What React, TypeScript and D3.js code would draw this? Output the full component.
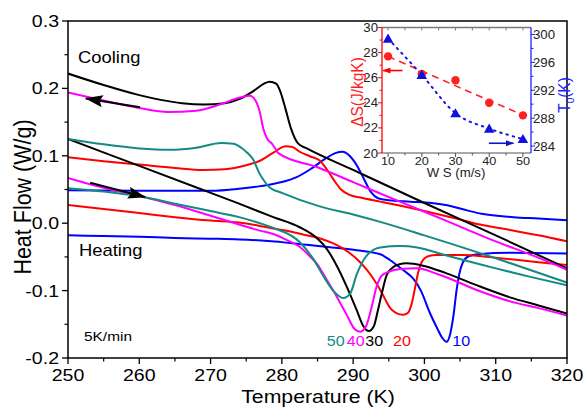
import React from 'react';
import * as d3 from 'd3';

type Pt = [number, number];

// DSC heat flow curves, [T (K), heat flow (W/g)]
const cool10: Pt[] = [[250, 0.049], [260, 0.048], [270, 0.048], [274, 0.051], [277, 0.055], [280, 0.061], [282, 0.068], [284, 0.08], [286, 0.095], [287.5, 0.104], [288.5, 0.106], [289.5, 0.1], [290.5, 0.086], [291.5, 0.066], [292.5, 0.046], [293.5, 0.037], [295, 0.034], [298, 0.032], [301, 0.03], [303, 0.027], [306, 0.019], [308, 0.014], [312.5, 0.009], [316, 0.007], [320, 0.0045]];
const heat10: Pt[] = [[250, -0.018], [255, -0.019], [260, -0.02], [265, -0.022], [270, -0.023], [274, -0.024], [279, -0.027], [283.5, -0.032], [287, -0.036], [290.5, -0.04], [293.8, -0.046], [295.2, -0.055], [296.1, -0.062], [297.2, -0.071], [298.4, -0.082], [299.5, -0.1], [300.8, -0.134], [301.7, -0.154], [302.5, -0.17], [303.1, -0.176], [303.6, -0.165], [304.1, -0.135], [304.5, -0.1], [304.9, -0.075], [305.4, -0.058], [306.2, -0.049], [307.5, -0.046], [312, -0.044], [320, -0.045]];
const cool20: Pt[] = [[250, 0.098], [255, 0.092], [260, 0.087], [265, 0.082], [269, 0.079], [272, 0.08], [275, 0.086], [277, 0.093], [279, 0.106], [280.5, 0.114], [281.5, 0.113], [282.5, 0.106], [284, 0.099], [285.3, 0.093], [286.3, 0.08], [287.3, 0.064], [288.3, 0.05], [289.5, 0.042], [291, 0.038], [293.8, 0.032], [297, 0.025], [300, 0.018], [304, 0.008], [307.8, -0.002], [312, -0.01], [316, -0.018], [320, -0.027]];
const heat20: Pt[] = [[250, 0.027], [255, 0.021], [260, 0.015], [265, 0.009], [270, 0.004], [274, 0.001], [276.9, -0.004], [278.8, -0.008], [281, -0.012], [283.5, -0.018], [285.5, -0.023], [287.2, -0.03], [288.5, -0.037], [289.6, -0.045], [290.8, -0.056], [291.9, -0.069], [293, -0.085], [293.8, -0.099], [294.5, -0.113], [295.2, -0.126], [296, -0.133], [297, -0.136], [297.7, -0.133], [298.2, -0.12], [298.7, -0.095], [299.1, -0.074], [299.6, -0.058], [300.3, -0.05], [301.5, -0.047], [305.4, -0.047], [309, -0.05], [312.5, -0.054], [316, -0.058], [320, -0.062]];
const cool30: Pt[] = [[250, 0.222], [255, 0.205], [260, 0.19], [263, 0.183], [266, 0.178], [269, 0.176], [272, 0.178], [274, 0.184], [276, 0.196], [277.5, 0.207], [278.3, 0.21], [279.2, 0.207], [279.8, 0.195], [280.5, 0.17], [281.3, 0.14], [282.3, 0.118], [283.5, 0.111], [290, 0.079], [300, 0.03], [310, -0.018], [320, -0.067]];
const heat30: Pt[] = [[250, 0.125], [260, 0.085], [269, 0.049], [274, 0.029], [278.8, 0.009], [282.5, -0.006], [284.9, -0.022], [286.3, -0.038], [287.7, -0.063], [289.1, -0.094], [290.5, -0.129], [291.4, -0.152], [292.2, -0.16], [292.9, -0.153], [293.5, -0.128], [294, -0.105], [294.7, -0.077], [295.5, -0.066], [296.5, -0.061], [297.5, -0.0595], [299.8, -0.063], [303, -0.074], [307.8, -0.094], [312, -0.11], [316, -0.122], [320, -0.134]];
const cool40: Pt[] = [[250, 0.194], [255, 0.182], [260, 0.171], [264, 0.165], [268, 0.167], [271.3, 0.176], [274, 0.186], [275.5, 0.189], [276.3, 0.182], [276.9, 0.165], [277.4, 0.14], [277.9, 0.126], [278.6, 0.118], [279, 0.112], [279.5, 0.104], [285, 0.083], [290, 0.061], [293.8, 0.044], [300, 0.017], [305, -0.005], [310, -0.027], [315, -0.047], [320, -0.069]];
const heat40: Pt[] = [[250, 0.067], [253, 0.058], [256, 0.05], [260.6, 0.039], [265, 0.027], [270, 0.011], [274, -0.002], [276.9, -0.011], [278.8, -0.016], [280.5, -0.024], [282.5, -0.035], [284, -0.05], [284.9, -0.06], [286.3, -0.084], [287.7, -0.109], [289.1, -0.136], [290.2, -0.157], [291, -0.161], [291.8, -0.153], [292.6, -0.124], [293.3, -0.094], [294, -0.078], [295, -0.072], [296.6, -0.068], [298.9, -0.067], [302, -0.076], [307.8, -0.101], [312, -0.116], [316, -0.126], [320, -0.137]];
const cool50: Pt[] = [[250, 0.125], [255, 0.117], [260, 0.111], [264.3, 0.109], [268, 0.112], [271.5, 0.119], [273.2, 0.118], [274.3, 0.112], [275.1, 0.105], [276, 0.094], [276.8, 0.075], [277.5, 0.063], [278.3, 0.053], [280, 0.045], [285.3, 0.025], [290, 0.013], [293.8, 0.002], [300, -0.018], [310, -0.052], [320, -0.088]];
const heat50: Pt[] = [[250, 0.052], [255, 0.047], [258, 0.043], [260.6, 0.039], [265, 0.029], [270, 0.018], [274, 0.009], [276.9, 0.0], [278.8, -0.007], [282.5, -0.028], [284.4, -0.053], [285.8, -0.078], [287.2, -0.1], [288.6, -0.111], [289.6, -0.104], [290.5, -0.076], [291.9, -0.048], [293.8, -0.036], [296.6, -0.034], [299, -0.036], [303.1, -0.048], [310, -0.067], [315, -0.08], [320, -0.092]];

const speeds = ['10', '20', '30', '40', '50'];
const colors = ['#0000ff', '#ff0000', '#000000', '#ff00ff', '#138a84'];
const coolCurves = [cool10, cool20, cool30, cool40, cool50];
const heatCurves = [heat10, heat20, heat30, heat40, heat50];
// where the speed labels sit (T) under the peaks
const labelT = [303.9, 295.6, 291.7, 289.1, 286.3];
const labelHF = -0.182;

const coolArrow: Pt[] = [[260.1, 0.172], [252.5, 0.185]];
const heatArrow: Pt[] = [[253.1, 0.06], [260.8, 0.039]];

// inset: entropy change and transition temperature vs wheel speed
const ws = [10, 20, 30, 40, 50];
const dS = [27.7, 26.3, 25.8, 24.0, 23.0];
const T0 = [299.4, 294.2, 288.7, 286.5, 285.0];
const dSArrow: Pt[] = [[14.3, 26.57], [8.5, 26.57]];
const T0Arrow: Pt[] = [[39.9, 284.4], [47.2, 284.4]];

const xTicks = d3.range(250, 321, 10);
const xMinor = d3.range(255, 320, 10);
const yTicks = [-0.2, -0.1, 0.0, 0.1, 0.2, 0.3];
const yMinor = [-0.15, -0.05, 0.05, 0.15, 0.25];

const SX = 1.15;
const FONT = "'Liberation Sans', Arial, Helvetica, sans-serif";

function Txt(props: { x: number; y: number; size: number; anchor?: string; fill?: string; rotate?: number; sx?: number; children: React.ReactNode }) {
  const { x, y, size, anchor = 'start', fill = '#000', rotate, sx = SX, children } = props;
  return (
    <g transform={`translate(${x},${y}) scale(${sx},1)${rotate ? ` rotate(${rotate})` : ''}`}>
      <text fontSize={size} textAnchor={anchor} fill={fill} fontFamily={FONT}>{children}</text>
    </g>
  );
}

export default function App() {
  const W = 584, H = 412;
  const left = 68, right = 567, top = 21, bottom = 358;
  const x = d3.scaleLinear().domain([250, 320]).range([left, right]);
  const y = d3.scaleLinear().domain([-0.2, 0.3]).range([bottom, top]);
  const line = d3.line<Pt>().x(d => x(d[0])).y(d => y(d[1])).curve(d3.curveMonotoneX);
  const straight = d3.line<Pt>().x(d => x(d[0])).y(d => y(d[1]));

  // inset geometry
  const iL = 382, iR = 531, iT = 27.5, iB = 153;
  const ix = d3.scaleLinear().domain([8.2, 52.4]).range([iL, iR]);
  const iyL = d3.scaleLinear().domain([20, 30]).range([iB, iT]);
  const iyR = d3.scaleLinear().domain([283, 301]).range([iB, iT]);

  // linear fit for dS
  const mx = d3.mean(ws)!, my = d3.mean(dS)!;
  const slope = d3.sum(ws.map((w, i) => (w - mx) * (dS[i] - my))) / d3.sum(ws.map(w => (w - mx) ** 2));
  const fitDS = d3.line<number>().x(w => ix(w)).y(w => iyL(my + slope * (w - mx)));
  const t0Line = d3.line<number>().x((w) => ix(w)).y((_, i) => iyR(T0[i])).curve(d3.curveMonotoneX);
  const tri = d3.symbol().type(d3.symbolTriangle).size(48)()!;

  return (
    <svg width={W} height={H} style={{ position: 'absolute', left: 0, top: 0, background: '#fff' }}>
      <defs>
        <marker id="ahBlack" markerUnits="userSpaceOnUse" viewBox="0 0 18 12" markerWidth={18} markerHeight={12} refX={17} refY={6} orient="auto">
          <path d="M0,0 L18,6 L0,12 L3,6 z" fill="#000" />
        </marker>
        <marker id="ahRed" markerUnits="userSpaceOnUse" viewBox="0 0 8 6" markerWidth={8} markerHeight={6} refX={7.5} refY={3} orient="auto">
          <path d="M0,0 L8,3 L0,6 z" fill="#ff0000" />
        </marker>
        <marker id="ahBlue" markerUnits="userSpaceOnUse" viewBox="0 0 8 6" markerWidth={8} markerHeight={6} refX={7.5} refY={3} orient="auto">
          <path d="M0,0 L8,3 L0,6 z" fill="#1414c8" />
        </marker>
        <clipPath id="plotClip">
          <rect x={left} y={top} width={right - left} height={bottom - top} />
        </clipPath>
      </defs>

      {/* curves */}
      <g clipPath="url(#plotClip)" fill="none" strokeWidth={2} strokeLinejoin="round">
        {speeds.map((s, i) => (
          <g key={s} stroke={colors[i]}>
            <path d={line(heatCurves[i])!} />
            <path d={line(coolCurves[i])!} />
          </g>
        ))}
      </g>

      {/* direction arrows */}
      <path d={straight(coolArrow)!} stroke="#000" strokeWidth={2} markerEnd="url(#ahBlack)" />
      <path d={straight(heatArrow)!} stroke="#000" strokeWidth={2} markerEnd="url(#ahBlack)" />

      {/* frame */}
      <rect x={left} y={top} width={right - left} height={bottom - top} fill="none" stroke="#000" strokeWidth={1.5} />

      {/* x axis */}
      {xTicks.map(t => (
        <g key={'xt' + t}>
          <line x1={x(t)} x2={x(t)} y1={bottom} y2={bottom + 6} stroke="#000" strokeWidth={1.3} />
          <Txt x={x(t)} y={381} size={17} anchor="middle">{t}</Txt>
        </g>
      ))}
      {xMinor.map(t => (
        <line key={'xm' + t} x1={x(t)} x2={x(t)} y1={bottom} y2={bottom + 3.5} stroke="#000" strokeWidth={1.2} />
      ))}
      {/* y axis */}
      {yTicks.map(t => (
        <g key={'yt' + t}>
          <line x1={left - 6} x2={left} y1={y(t)} y2={y(t)} stroke="#000" strokeWidth={1.3} />
          <Txt x={59} y={y(t) + 6} size={17} anchor="end">{t.toFixed(1)}</Txt>
        </g>
      ))}
      {yMinor.map(t => (
        <line key={'ym' + t} x1={left - 3.5} x2={left} y1={y(t)} y2={y(t)} stroke="#000" strokeWidth={1.2} />
      ))}

      <Txt x={318} y={403} size={18.5} anchor="middle">Temperature (K)</Txt>
      <Txt x={31} y={197} size={21.5} anchor="middle" rotate={-90}>Heat Flow (W/g)</Txt>

      <Txt x={78} y={63} size={16}>Cooling</Txt>
      <Txt x={79} y={256} size={16}>Heating</Txt>
      <Txt x={84} y={341} size={13.4}>5K/min</Txt>

      {speeds.map((s, i) => (
        <Txt key={'lab' + s} x={x(labelT[i])} y={y(labelHF)} size={14} fill={colors[i]}>{s}</Txt>
      ))}

      {/* inset */}
      <rect x={iL} y={iT} width={iR - iL} height={iB - iT} fill="#fff" />
      <path d={fitDS([10, 50])!} fill="none" stroke="#ff2020" strokeWidth={1.6} strokeDasharray="7 5" />
      <path d={t0Line(ws)!} fill="none" stroke="#1414e6" strokeWidth={2} strokeDasharray="1.5 5" strokeLinecap="round" />
      {ws.map((w, i) => (
        <circle key={'c' + w} cx={ix(w)} cy={iyL(dS[i])} r={4.2} fill="#ff2020" />
      ))}
      {ws.map((w, i) => (
        <path key={'t' + w} d={tri} transform={`translate(${ix(w)},${iyR(T0[i]) + 1})`} fill="#1010e0" />
      ))}
      <path d={d3.line<Pt>().x(d => ix(d[0])).y(d => iyL(d[1]))(dSArrow)!} stroke="#ff0000" strokeWidth={1.6} markerEnd="url(#ahRed)" />
      <path d={d3.line<Pt>().x(d => ix(d[0])).y(d => iyR(d[1]))(T0Arrow)!} stroke="#1414c8" strokeWidth={1.6} markerEnd="url(#ahBlue)" />

      {/* inset frame: top gray, bottom dark, left red, right blue */}
      <line x1={iL} x2={iR} y1={iT} y2={iT} stroke="#7a7a7a" strokeWidth={1.6} />
      {d3.range(10, 51, 5).map(w => (
        <line key={'it' + w} x1={ix(w)} x2={ix(w)} y1={iT} y2={iT + 3} stroke="#7a7a7a" strokeWidth={1} />
      ))}
      <line x1={iL} x2={iR} y1={iB} y2={iB} stroke="#555" strokeWidth={1.2} />
      {d3.range(10, 51, 5).map(w => (
        <line key={'ib' + w} x1={ix(w)} x2={ix(w)} y1={iB} y2={iB + (w % 10 === 0 ? 4 : 2.5)} stroke="#555" strokeWidth={1} />
      ))}
      {ws.map(w => (
        <Txt key={'ibl' + w} x={ix(w)} y={iB + 11.5} size={11.5} anchor="middle" fill="#222" sx={1.1}>{w}</Txt>
      ))}
      <Txt x={456} y={176.5} size={12} anchor="middle" fill="#222" sx={1.1}>W S (m/s)</Txt>

      <line x1={iL} x2={iL} y1={iT} y2={iB} stroke="#ff0000" strokeWidth={1.3} />
      {d3.range(20, 30.1, 1).map(v => (
        <line key={'il' + v} x1={iL - (v % 2 === 0 ? 4 : 2.5)} x2={iL} y1={iyL(v)} y2={iyL(v)} stroke="#ff0000" strokeWidth={1} />
      ))}
      {d3.range(20, 30.1, 2).map(v => (
        <Txt key={'ill' + v} x={iL - 4} y={iyL(v) + 4.5} size={12} anchor="end" fill="#222" sx={1.1}>{v}</Txt>
      ))}
      <Txt x={363} y={92} size={15.5} anchor="middle" fill="#ff2020" rotate={-90} sx={1.1}>ΔS(J/kgK)</Txt>

      <line x1={iR} x2={iR} y1={iT} y2={iB} stroke="#2020ff" strokeWidth={1.3} />
      {d3.range(284, 301, 2).map(v => (
        <line key={'ir' + v} x1={iR} x2={iR + (v % 4 === 0 ? 4 : 2.5)} y1={iyR(v)} y2={iyR(v)} stroke="#2020ff" strokeWidth={1} />
      ))}
      {d3.range(284, 301, 4).map(v => (
        <Txt key={'irl' + v} x={iR + 2} y={iyR(v) + 4.5} size={12} fill="#222" sx={1.1}>{v}</Txt>
      ))}
      <g transform={`translate(570,95) scale(1.1,1) rotate(-90)`}>
        <text fontSize={15.5} textAnchor="middle" fill="#2020ff" fontFamily={FONT}>
          T<tspan fontSize={10} dy={4}>0</tspan><tspan dy={-4}>(K)</tspan>
        </text>
      </g>
    </svg>
  );
}
